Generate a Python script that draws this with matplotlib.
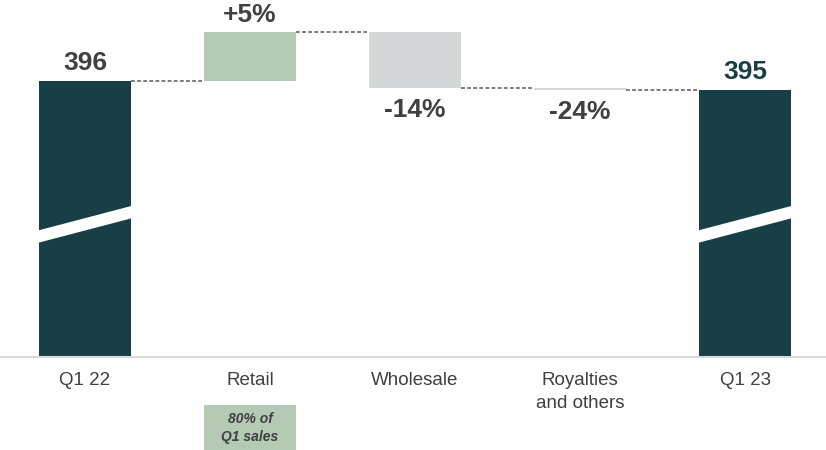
import matplotlib.pyplot as plt
from matplotlib.patches import Polygon, Rectangle
from matplotlib.transforms import blended_transform_factory

# --- data (y axis is broken below 300) ---
categories = ["Q1 22", "Retail", "Wholesale", "Royalties\nand others", "Q1 23"]
start_value = 396
deltas = [16.9, -19.5, -0.7]          # retail, wholesale, royalties (chart units)
value_labels = ["396", "+5%", "-14%", "-24%", "395"]
retail_note = "80% of\nQ1 sales"

DARK = "#173f45"
GREEN = "#b5cab5"
GREY = "#d5d6d8"
TEXT = "#404040"
delta_colors = [GREEN, GREY, GREY]

plt.rcParams["font.family"] = ["Liberation Sans", "DejaVu Sans"]

fig = plt.figure(figsize=(8.26, 4.5), dpi=100)
ax = fig.add_axes([0, 93 / 450, 1, 357 / 450])

base = 300
px_per_unit = 2.878
ax.set_xlim(-85 / 165, (826 - 85) / 165)
ax.set_ylim(base, base + 357 / px_per_unit)

w = 0.558
x = list(range(len(categories)))

# running levels
levels = [start_value]
for d in deltas:
    levels.append(levels[-1] + d)
end_value = levels[-1]

# total bars
for xi, v in [(x[0], start_value), (x[-1], end_value)]:
    ax.bar(xi, v - base, bottom=base, width=w, color=DARK, zorder=2)
    # axis break band
    yl, yr = 339.6, 348.3
    th = 4.3
    band = Polygon([(xi - w / 2 - 0.01, yl), (xi + w / 2 + 0.01, yr),
                    (xi + w / 2 + 0.01, yr + th), (xi - w / 2 - 0.01, yl + th)],
                   closed=True, facecolor="white", edgecolor="none", zorder=3)
    ax.add_patch(band)

# delta bars
for i, d in enumerate(deltas):
    lo = min(levels[i], levels[i + 1])
    ax.bar(x[i + 1], abs(d), bottom=lo, width=w, color=delta_colors[i], zorder=2)

# dashed connectors
for i in range(len(levels)):
    ax.plot([x[i] + w / 2, x[i + 1] - w / 2], [levels[i], levels[i]],
            color="#595959", lw=1.1, linestyle=(0, (2.5, 1.5)), zorder=1)

# value labels
fs = 19
ax.annotate(value_labels[0], (x[0], start_value), xytext=(0, 13), textcoords="offset points",
            ha="center", va="center", fontsize=fs, fontweight="bold", color=TEXT)
for i, d in enumerate(deltas):
    if d > 0:
        ax.annotate(value_labels[i + 1], (x[i + 1], levels[i + 1]), xytext=(0, 12),
                    textcoords="offset points", ha="center", va="center",
                    fontsize=fs, fontweight="bold", color=TEXT)
    else:
        ax.annotate(value_labels[i + 1], (x[i + 1], levels[i + 1]), xytext=(0, -16),
                    textcoords="offset points", ha="center", va="center",
                    fontsize=fs, fontweight="bold", color=TEXT)
ax.annotate(value_labels[-1], (x[-1], end_value), xytext=(0, 13), textcoords="offset points",
            ha="center", va="center", fontsize=fs, fontweight="bold", color=DARK)

# axes styling
ax.set_xticks(x)
ax.set_xticklabels(categories, fontsize=13.5, color=TEXT, linespacing=1.45)
ax.tick_params(axis="x", length=0, pad=11)
ax.set_yticks([])
for s in ["top", "left", "right"]:
    ax.spines[s].set_visible(False)
ax.spines["bottom"].set_color("#d9d9d9")
ax.spines["bottom"].set_linewidth(1.5)

# retail share note
tr = blended_transform_factory(ax.transData, ax.transAxes)
ax.add_patch(Rectangle((x[1] - w / 2, -0.2605), w, 0.126, transform=tr,
                       facecolor=GREEN, edgecolor="none", clip_on=False))
ax.text(x[1], -0.198, retail_note, transform=tr, ha="center", va="center",
        fontsize=10, fontweight="bold", fontstyle="italic", color=TEXT,
        linespacing=1.35)

fig.savefig("out.png", dpi=100)
